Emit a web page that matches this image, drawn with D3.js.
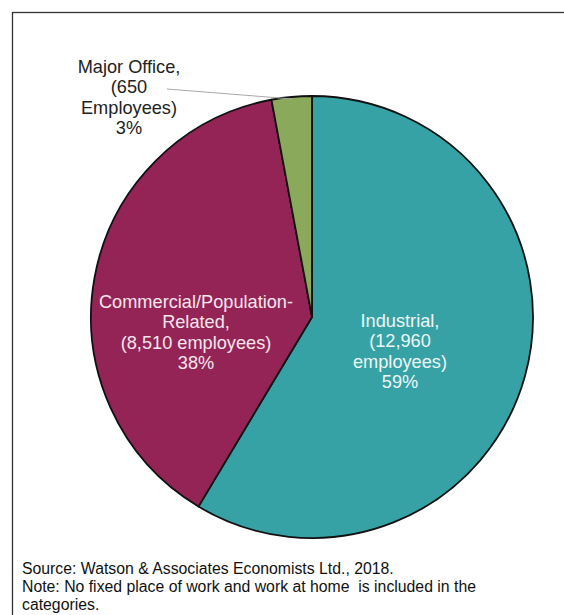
<!DOCTYPE html>
<html>
<head>
<meta charset="utf-8">
<script src="https://cdn.jsdelivr.net/npm/d3@7"></script>
<style>
  body { margin: 0; background: #fff; }
  svg { display: block; font-family: "Liberation Sans", Arial, sans-serif; }
</style>
</head>
<body>
<svg width="564" height="615"></svg>
<script>
// chart data, clockwise from 12 o'clock
const categories = ["Industrial", "Commercial/Population-Related", "Major Office"];
const employees = [12960, 8510, 650];
const percents = ["59%", "38%", "3%"];
const labelLines = [
    ["Industrial,", "(12,960", "employees)", "59%"],
    ["Commercial/Population-", "Related,", "(8,510 employees)", "38%"],
    ["Major Office,", "(650", "Employees)", "3%"]
];
const noteLines = [
    "Source: Watson & Associates Economists Ltd., 2018.",
    "Note: No fixed place of work and work at home  is included in the",
    "categories."
];

const CX = 312,
    CY = 317,
    RADIUS = 221,
    LINE_H = 20.3,
    FONT = 18.2;

const colors = d3.scaleOrdinal()
    .domain(categories)
    .range(["#36a2a5", "#952456", "#8ba95a"]);

// label placement relative to pie centre (first baseline)
const labelPos = [
    {dx: 88, dy: 10, fill: "#eef8f8"},
    {dx: -116, dy: -9, fill: "#f6e6ee"},
    {dx: -183, dy: -244, fill: "#222"}
];

const svg = d3.select("svg");

// frame
svg.append("rect")
    .attr("x", 12.5)
    .attr("y", 12.5)
    .attr("width", 600)
    .attr("height", 700)
    .attr("fill", "none")
    .attr("stroke", "#333")
    .attr("stroke-width", 1.3);

const rows = categories.map((c, i) => ({name: c, value: employees[i], i}));

const pie = d3.pie()
    .sort(null)
    .value((d) => d.value);

const arc = d3.arc()
    .innerRadius(0)
    .outerRadius(RADIUS);

const arcs = pie(rows);

const g = svg.append("g")
    .attr("transform", `translate(${CX},${CY})`);

g.selectAll("path.slice")
    .data(arcs)
    .enter()
    .append("path")
    .attr("class", "slice")
    .attr("d", arc)
    .attr("fill", (d) => colors(d.data.name))
    .attr("stroke", "#111")
    .attr("stroke-width", 1.8)
    .attr("stroke-linejoin", "round");

// leader line for the small slice
const office = arcs[2];
const edge = d3.arc().innerRadius(RADIUS - 2).outerRadius(RADIUS - 2);
const tip = edge.centroid(office);
g.append("line")
    .attr("x1", labelPos[2].dx + 38)
    .attr("y1", labelPos[2].dy + 16)
    .attr("x2", tip[0])
    .attr("y2", tip[1])
    .attr("stroke", "#a8a8a8")
    .attr("stroke-width", 1);

const labels = g.selectAll("text.lbl")
    .data(arcs)
    .enter()
    .append("text")
    .attr("class", "lbl")
    .attr("text-anchor", "middle")
    .attr("font-size", FONT)
    .attr("fill", (d, i) => labelPos[i].fill);

labels.selectAll("tspan")
    .data((d, i) => labelLines[i].map((t) => ({t, i})))
    .enter()
    .append("tspan")
    .attr("x", (d) => labelPos[d.i].dx)
    .attr("y", (d, k) => labelPos[d.i].dy + k * LINE_H)
    .text((d) => d.t);

// source note
svg.append("text")
    .attr("font-size", 15.8)
    .attr("fill", "#111")
    .style("white-space", "pre")
    .selectAll("tspan")
    .data(noteLines)
    .enter()
    .append("tspan")
    .attr("x", 22)
    .attr("y", (d, i) => 574 + i * 17.8)
    .text((d) => d);
</script>
</body>
</html>
